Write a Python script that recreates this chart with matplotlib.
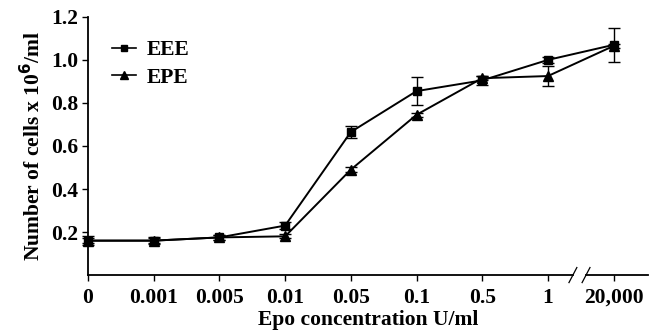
import numpy as np
import matplotlib
matplotlib.use("Agg")
from matplotlib import pyplot as plt
from matplotlib.lines import Line2D

plt.rcParams['font.family'] = 'Liberation Serif'
plt.rcParams['font.weight'] = 'bold'

# data
conc = ['0', '0.001', '0.005', '0.01', '0.05', '0.1', '0.5', '1', '20,000']
eee = [0.16, 0.16, 0.175, 0.23, 0.665, 0.855, 0.905, 1.0, 1.07]
eee_err = [0.02, 0.015, 0.01, 0.015, 0.03, 0.065, 0.02, 0.015, 0.08]
epe = [0.16, 0.16, 0.175, 0.18, 0.49, 0.745, 0.915, 0.925, 1.065]
epe_err = [0.01, 0.01, 0.01, 0.01, 0.01, 0.01, 0.01, 0.045, 0.01]

x = np.arange(len(conc))
fs = 15.5

fig = plt.figure(figsize=(6.57, 3.31), dpi=100)
ax = fig.add_axes([0.134, 0.169, 0.852, 0.78])

ax.errorbar(x, eee, yerr=eee_err, color='black', marker='s', markersize=6,
            lw=1.4, capsize=4, elinewidth=1, capthick=1, clip_on=False)
ax.errorbar(x, epe, yerr=epe_err, color='black', marker='^', markersize=7,
            lw=1.4, capsize=4, elinewidth=1, capthick=1, clip_on=False)

ax.set_xlim(0, 8.52)
ax.set_ylim(0, 1.2)
ax.set_yticks([0.2, 0.4, 0.6, 0.8, 1.0, 1.2])
ax.set_yticklabels(['0.2', '0.4', '0.6', '0.8', '1.0', '1.2'])
ax.set_xticks(x)
ax.set_xticklabels(conc)
ax.tick_params(labelsize=fs, length=4, width=1)
ax.tick_params(axis='x', pad=5)
ax.tick_params(axis='y', pad=3)

ax.spines['top'].set_visible(False)
ax.spines['right'].set_visible(False)
ax.spines['bottom'].set_visible(False)
ax.spines['left'].set_linewidth(1.3)

# broken x axis
ax.plot([0, 7.38], [0, 0], color='black', lw=1.3, clip_on=False)
ax.plot([7.58, 8.52], [0, 0], color='black', lw=1.3, clip_on=False)
for bx in (7.38, 7.58):
    ax.plot([bx - 0.06, bx + 0.06], [-0.035, 0.035], color='black', lw=0.9, clip_on=False)

ax.set_xlabel('Epo concentration U/ml', fontsize=fs, fontweight='bold', labelpad=2)
ax.set_ylabel('Number of cells x 10$^{6}$/ml', fontsize=fs, fontweight='bold', labelpad=4)

handles = [Line2D([], [], color='black', lw=1.2, marker='s', markersize=4.5),
           Line2D([], [], color='black', lw=1.2, marker='^', markersize=5.5)]
ax.legend(handles, ['EEE', 'EPE'], loc='upper left', bbox_to_anchor=(0.043, 0.91),
          frameon=False, fontsize=fs, handlelength=1.1, handletextpad=0.5,
          labelspacing=0.35, borderpad=0, borderaxespad=0)

fig.savefig('out.png', dpi=100)
